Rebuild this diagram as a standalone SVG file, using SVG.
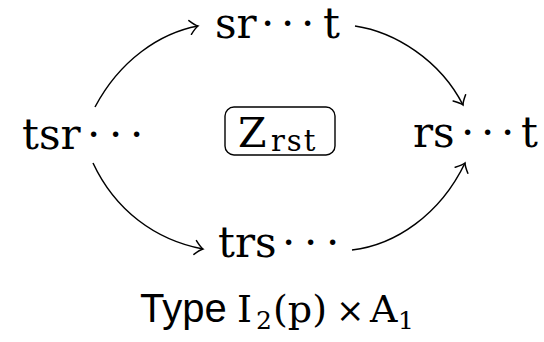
<svg xmlns="http://www.w3.org/2000/svg" width="544" height="342" viewBox="0 0 544 342">
<style>
.m{font-family:"DejaVu Serif","Liberation Serif",serif;font-size:42px;fill:#000}
.f{font-family:"DejaVu Serif","Liberation Serif",serif}
.s{font-family:"Liberation Sans",Arial,sans-serif;font-size:40px;fill:#000}
.e{fill:none;stroke:#000;stroke-width:1.5}
</style>
<defs>
<marker id="ah" markerUnits="userSpaceOnUse" orient="auto" markerWidth="20" markerHeight="20" refX="0" refY="0" viewBox="-12 -10 14 20" overflow="visible">
<path d="M-8,-7 Q-3,-1.5 0,0 Q-3,1.5 -8,7" fill="none" stroke="#000" stroke-width="1.5" stroke-linecap="round"/>
</marker>
</defs>
<g id="connectors">
<path class="e" d="M95,107 C120,60 160,33 198,26" marker-end="url(#ah)"/>
<path class="e" d="M355,26 C395,32 440,60 463,105" marker-end="url(#ah)"/>
<path class="e" d="M93,163 C115,210 155,240 203,249" marker-end="url(#ah)"/>
<path class="e" d="M352,250 C395,245 440,215 465,163" marker-end="url(#ah)"/>
</g>
<g id="n_tsr">
<text class="m" x="22" y="149">tsr<tspan x="87">·</tspan><tspan x="109">·</tspan><tspan x="130">·</tspan></text>
</g>
<g id="n_srt">
<text class="m" x="215" y="38">sr<tspan x="261">·</tspan><tspan x="281">·</tspan><tspan x="301">·</tspan><tspan x="323">t</tspan></text>
</g>
<g id="n_center">
<rect x="225" y="107" width="110" height="48" rx="9" fill="none" stroke="#000" stroke-width="1.4"/>
<text class="f" x="238" y="147" style="font-size:41px">Z<tspan x="271" y="151" style="font-size:29px" letter-spacing="2">rst</tspan></text>
</g>
<g id="n_rst">
<text class="m" x="413" y="147">rs<tspan x="461">·</tspan><tspan x="481">·</tspan><tspan x="501">·</tspan><tspan x="521">t</tspan></text>
</g>
<g id="n_trs">
<text class="m" x="218" y="257">trs<tspan x="282">·</tspan><tspan x="304">·</tspan><tspan x="326">·</tspan></text>
</g>
<g id="label">
<text class="s" x="140" y="322">Type<tspan class="f" style="font-size:38px" x="237">I</tspan><tspan class="f" style="font-size:25px" x="256" y="329">2</tspan><tspan class="f" style="font-size:38px" x="273" y="322">(p)</tspan><tspan class="f" style="font-size:34px" x="336">×</tspan><tspan class="f" style="font-size:38px" x="370">A</tspan><tspan class="f" style="font-size:25px" x="398" y="329">1</tspan></text>
</g>
</svg>
